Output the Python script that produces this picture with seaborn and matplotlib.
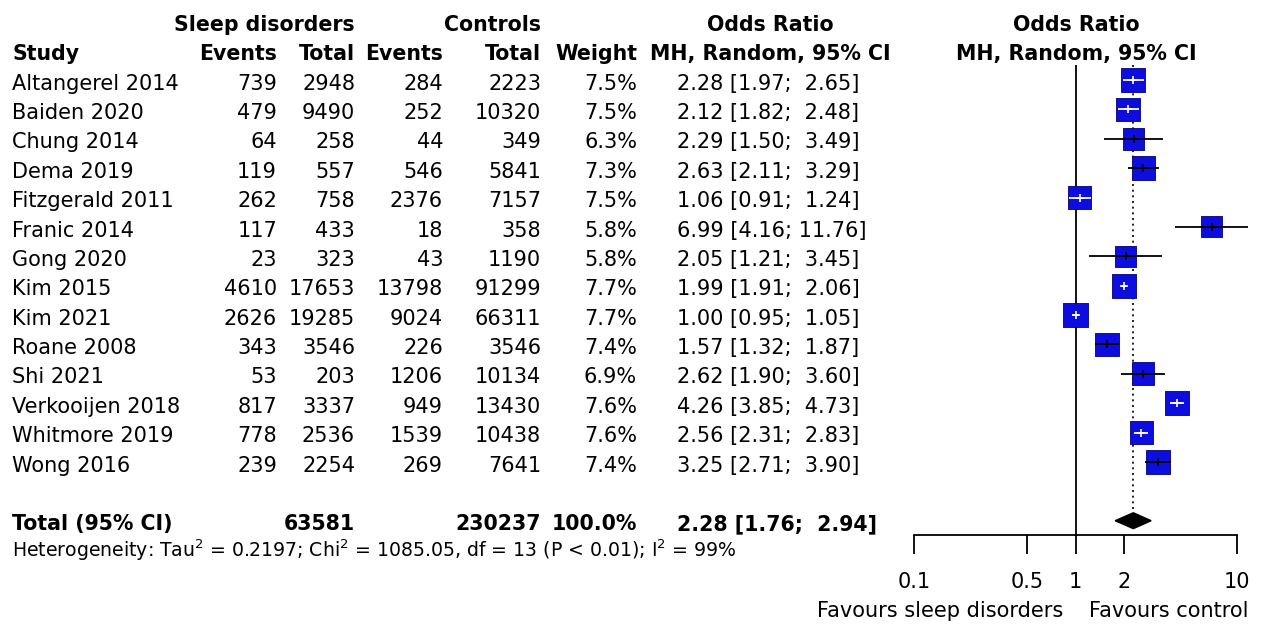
import numpy as np
import pandas as pd
import matplotlib
matplotlib.use("Agg")
import matplotlib.pyplot as plt
import matplotlib.transforms as mtransforms
from matplotlib.ticker import NullLocator
import seaborn as sns

# ---- data -------------------------------------------------------------
studies = ["Altangerel 2014", "Baiden 2020", "Chung 2014", "Dema 2019",
           "Fitzgerald 2011", "Franic 2014", "Gong 2020", "Kim 2015",
           "Kim 2021", "Roane 2008", "Shi 2021", "Verkooijen 2018",
           "Whitmore 2019", "Wong 2016"]
sd_events = [739, 479, 64, 119, 262, 117, 23, 4610, 2626, 343, 53, 817, 778, 239]
sd_total = [2948, 9490, 258, 557, 758, 433, 323, 17653, 19285, 3546, 203, 3337, 2536, 2254]
ct_events = [284, 252, 44, 546, 2376, 18, 43, 13798, 9024, 226, 1206, 949, 1539, 269]
ct_total = [2223, 10320, 349, 5841, 7157, 358, 1190, 91299, 66311, 3546, 10134, 13430, 10438, 7641]
weights = [7.5, 7.5, 6.3, 7.3, 7.5, 5.8, 5.8, 7.7, 7.7, 7.4, 6.9, 7.6, 7.6, 7.4]
odds = [2.28, 2.12, 2.29, 2.63, 1.06, 6.99, 2.05, 1.99, 1.00, 1.57, 2.62, 4.26, 2.56, 3.25]
ci_low = [1.97, 1.82, 1.50, 2.11, 0.91, 4.16, 1.21, 1.91, 0.95, 1.32, 1.90, 3.85, 2.31, 2.71]
ci_high = [2.65, 2.48, 3.49, 3.29, 1.24, 11.76, 3.45, 2.06, 1.05, 1.87, 3.60, 4.73, 2.83, 3.90]

total_sd = 63581
total_ct = 230237
total_weight = 100.0
pooled, pooled_low, pooled_high = 2.28, 1.76, 2.94
heterogeneity = ("Heterogeneity: Tau$^2$ = 0.2197; Chi$^2$ = 1085.05, "
                 "df = 13 (P < 0.01); I$^2$ = 99%")

tick_values = [0.1, 0.5, 1, 2, 10]
tick_labels = ["0.1", "0.5", "1", "2", "10"]
label_left = "Favours sleep disorders"
label_right = "Favours control"

# ---- style ------------------------------------------------------------
sns.set_style("white")
plt.rcParams["font.family"] = ["DejaVu Sans"]
plt.rcParams["mathtext.default"] = "regular"
plt.rcParams["text.color"] = "black"
plt.rcParams["axes.labelcolor"] = "black"
plt.rcParams["xtick.color"] = "black"
plt.rcParams["xtick.labelcolor"] = "black"

W, H = 1270, 624
FS = 15      # body text
FB = 14.8    # bold headers
BLUE = "#0d0de0"

df = pd.DataFrame({
    "study": studies, "odds": odds, "low": ci_low, "high": ci_high,
    "weight": weights, "row": np.arange(len(studies)),
})

fig = plt.figure(figsize=(W / 100, H / 100), dpi=100)
fig.patch.set_facecolor("white")
ax_top, ax_bot = 65.3, 535.4
ax = fig.add_axes([914 / W, 1 - ax_bot / H, (1237 - 914) / W, (ax_bot - ax_top) / H])
ax.set_xscale("log")
ax.set_xlim(0.1, 10)
ax.set_ylim(15.5, -0.5)
ax.set_facecolor("none")

# reference lines
ax.axvline(1, color="black", lw=1.3, zorder=1)
ax.plot([pooled, pooled], [-0.5, 15 - 0.28], color="black", lw=1.2,
        ls=(0, (1.2, 2.2)), zorder=1)

# study squares, area proportional to weight
side_per_sqrt_w = 8.65 * 0.72           # points per sqrt(weight)
s_at_10 = (side_per_sqrt_w * np.sqrt(10)) ** 2
sns.scatterplot(data=df, x="odds", y="row", size="weight",
                sizes=(0, s_at_10), size_norm=(0, 10), marker="s",
                color=BLUE, edgecolor="#00007a", linewidth=0.6,
                legend=False, ax=ax, zorder=3, clip_on=False)

# confidence intervals: white when contained in the square
px_per_decade = (1237 - 914) / 2.0
for _, r in df.iterrows():
    half = 8.65 * np.sqrt(r.weight) / 2
    reach = max(np.log10(r.high / r.odds), np.log10(r.odds / r.low)) * px_per_decade
    col = "white" if reach < half else "black"
    ax.hlines(r.row, r.low, r.high, colors=col, lw=1.3, zorder=4, clip_on=False)
    ax.plot([r.odds], [r.row], marker="+", ms=6, mew=1.2, color=col,
            zorder=5, clip_on=False)

# pooled diamond
h = 0.27
ax.fill([pooled_low, pooled, pooled_high, pooled], [15, 15 - h, 15, 15 + h],
        color="black", zorder=3)

# axis
for sp in ["top", "right", "left"]:
    ax.spines[sp].set_visible(False)
ax.spines["bottom"].set_linewidth(1.3)
ax.spines["bottom"].set_color("black")
ax.set_xticks(tick_values)
ax.set_xticklabels(tick_labels)
ax.xaxis.set_minor_locator(NullLocator())
ax.set_yticks([])
ax.set_xlabel("")
ax.set_ylabel("")
ax.tick_params(axis="x", direction="out", length=14, width=1.3,
               pad=12, labelsize=FS, colors="black", bottom=True)

fig.text(1063 / W, 1 - 617 / H, label_left, ha="right", va="baseline", fontsize=FS)
fig.text(1089 / W, 1 - 617 / H, label_right, ha="left", va="baseline", fontsize=FS)

# ---- table text ---------------------------------------------------------
blend = mtransforms.blended_transform_factory(fig.transFigure, ax.transData)
BASE = 0.33


def put(xpx, row, s, ha="right", bold=False, size=None):
    ax.text(xpx / W, row + BASE, s, transform=blend, ha=ha, va="baseline",
            fontsize=size or (FB if bold else FS), color="black",
            fontweight="bold" if bold else "normal", clip_on=False)


# headers
put(355, -2, "Sleep disorders", bold=True)
put(541, -2, "Controls", bold=True)
put(770, -2, "Odds Ratio", ha="center", bold=True)
put(1076, -2, "Odds Ratio", ha="center", bold=True)
put(12, -1, "Study", ha="left", bold=True)
put(277, -1, "Events", bold=True)
put(355, -1, "Total", bold=True)
put(443, -1, "Events", bold=True)
put(541, -1, "Total", bold=True)
put(637, -1, "Weight", bold=True)
put(770, -1, "MH, Random, 95% CI", ha="center", bold=True)
put(1076, -1, "MH, Random, 95% CI", ha="center", bold=True)


def fmt_ci(est, lo, hi):
    return f"{est:.2f} [{lo:.2f}; {hi:5.2f}]"


for i, st in enumerate(studies):
    put(12, i, st, ha="left")
    put(277, i, f"{sd_events[i]}")
    put(355, i, f"{sd_total[i]}")
    put(443, i, f"{ct_events[i]}")
    put(541, i, f"{ct_total[i]}")
    put(637, i, f"{weights[i]:.1f}%")
    put(677, i, fmt_ci(odds[i], ci_low[i], ci_high[i]), ha="left")

put(12, 15, "Total (95% CI)", ha="left", bold=True)
put(355, 15, f"{total_sd}", bold=True)
put(541, 15, f"{total_ct}", bold=True)
put(637, 15, f"{total_weight:.1f}%", bold=True)
put(677, 15, fmt_ci(pooled, pooled_low, pooled_high), ha="left", bold=True)
ax.text(12 / W, 16 + 0.22, heterogeneity, transform=blend, ha="left",
        va="baseline", fontsize=13.6, color="black", clip_on=False)

fig.savefig("out.png", dpi=100, facecolor="white")
